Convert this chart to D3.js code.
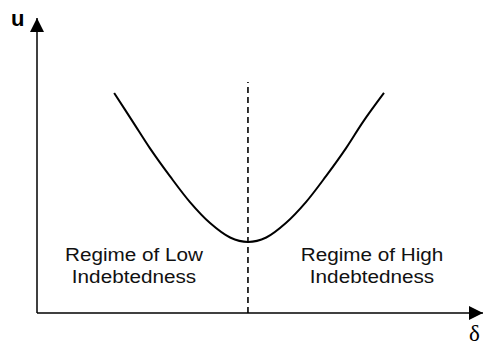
<!DOCTYPE html>
<html lang="en">
  <head>
    <meta charset="utf-8">
    <title>Regimes of indebtedness</title>
    <script src="https://cdn.jsdelivr.net/npm/d3@7"></script>
    <style>
      body { margin: 0; background: #fff; }
      svg { display: block; }
    </style>
  </head>
  <body>
    <script>
    // curve: delta (x) and u (y), both on a 0-100 scale
    var curveDelta = [17.3, 21.5, 25.3, 29.8, 34.3, 38.8, 43.3, 47.3, 51.4, 55.8, 60.3, 64.8, 69.3, 73.1, 77.8];
    var curveU     = [74.6, 64.8, 55.9, 46.4, 37.6, 30.5, 25.6, 24.1, 25.6, 30.5, 37.6, 46.4, 55.9, 64.8, 74.6];

    // threshold between the two regimes
    var thresholdDelta = 47.3;
    var thresholdTop = 78.3;

    var lowLabel = ["Regime of Low", "Indebtedness"];
    var highLabel = ["Regime of High", "Indebtedness"];
    var xTitle = "\u03b4";
    var yTitle = "u";

    var w = 484;
    var h = 347;

    var svg = d3.select("body")
                .append("svg")
                .attr("width", w)
                .attr("height", h);

    var xScale = d3.scaleLinear()
                   .domain([0, 100])
                   .range([37, 483]);
    var yScale = d3.scaleLinear()
                   .domain([0, 100])
                   .range([313, 18]);

    // arrow heads
    var defs = svg.append("defs");
    defs.append("marker")
        .attr("id", "arrow")
        .attr("viewBox", "0 0 10 10")
        .attr("refX", 10)
        .attr("refY", 5)
        .attr("markerUnits", "userSpaceOnUse")
        .attr("markerWidth", 14)
        .attr("markerHeight", 15)
        .attr("orient", "auto")
        .append("path")
        .attr("d", "M0,0 L10,5 L0,10 Z")
        .attr("fill", "#000");

    // axes
    svg.append("line")
       .attr("x1", xScale(0)).attr("y1", yScale(0))
       .attr("x2", xScale(100)).attr("y2", yScale(0))
       .attr("stroke", "#000").attr("stroke-width", 1.5)
       .attr("marker-end", "url(#arrow)");

    svg.append("line")
       .attr("x1", xScale(0)).attr("y1", yScale(0))
       .attr("x2", xScale(0)).attr("y2", yScale(100))
       .attr("stroke", "#000").attr("stroke-width", 1.5)
       .attr("marker-end", "url(#arrow)");

    // dashed threshold
    svg.append("line")
       .attr("x1", xScale(thresholdDelta)).attr("y1", yScale(0))
       .attr("x2", xScale(thresholdDelta)).attr("y2", yScale(thresholdTop))
       .attr("stroke", "#000").attr("stroke-width", 1.6)
       .attr("stroke-dasharray", "6,4");

    // the u curve
    var pts = curveDelta.map(function(d, i) { return [d, curveU[i]]; });
    var line = d3.line()
                 .x(function(d) { return xScale(d[0]); })
                 .y(function(d) { return yScale(d[1]); })
                 .curve(d3.curveCatmullRom);

    svg.append("path")
       .datum(pts)
       .attr("d", line)
       .attr("fill", "none")
       .attr("stroke", "#000")
       .attr("stroke-width", 2);

    // regime labels
    var addLabel = function(lines, cx) {
      var t = svg.append("text")
                 .attr("font-family", "Liberation Sans, Arial, sans-serif")
                 .attr("font-size", 19)
                 .attr("fill", "#111")
                 .attr("text-anchor", "middle")
                 .attr("transform", "translate(" + cx + ",261) scale(1.09,1)");
      lines.forEach(function(s, i) {
        t.append("tspan")
         .attr("x", 0)
         .attr("y", i * 22.5)
         .text(s);
      });
    };
    addLabel(lowLabel, 134);
    addLabel(highLabel, 372);

    // axis titles
    svg.append("text")
       .attr("x", 11).attr("y", 26)
       .attr("font-family", "Liberation Sans, Arial, sans-serif")
       .attr("font-weight", "bold")
       .attr("font-size", 22)
       .text(yTitle);

    svg.append("text")
       .attr("x", 469).attr("y", 341)
       .attr("font-family", "Liberation Serif, Times New Roman, serif")
       .attr("font-size", 23)
       .text(xTitle);
    </script>
  </body>
</html>
